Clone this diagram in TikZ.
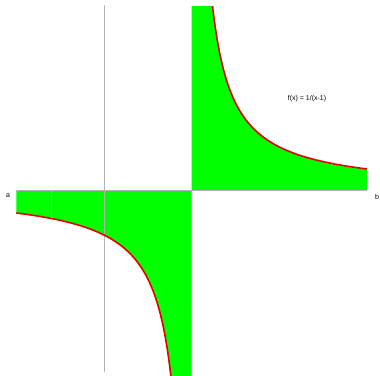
\documentclass[tikz,border=0pt]{standalone}
\usepackage{fontspec}
\setmainfont{Liberation Sans}
\begin{document}
\begin{tikzpicture}[x=1pt,y=1pt,
  axis/.style={draw=black!30,line width=1pt},
  region/.style={fill={rgb,255:red,0;green,255;blue,0}},
  curve/.style={draw={rgb,255:red,230;green,0;blue,0},line width=1.6pt},
  lbl/.style={font=\fontsize{7}{8}\selectfont,inner sep=0pt}]
\useasboundingbox (0,0) rectangle (380,375);
\clip (0,0) rectangle (380,375);
\begin{scope}[shift={(104,184)},x=87.7pt,y=44pt]
  \fill[region] (-1,0) -- plot[domain=-1:0.77,samples=200] (\x,{1/(\x-1)}) -- (1,-4.35) -- (1,0) -- cycle;
  \fill[region] (1,0) -- (1,4.2) -- plot[domain=1.2381:3,samples=200] (\x,{1/(\x-1)}) -- (3,0) -- cycle;
  \draw[draw={rgb,255:red,140;green,245;blue,140},line width=0.5pt] (-0.6,0) -- (-0.6,-0.625);
  \draw[axis] (-1,0) -- (3,0);
  \draw[axis] (0,4.227) -- (0,-4.11);
  \draw[curve] plot[domain=-1:0.77,samples=200] (\x,{1/(\x-1)});
  \draw[curve] plot[domain=1.2381:3,samples=200] (\x,{1/(\x-1)});
\end{scope}
\node[lbl] (a) at (8,179) {a};
\node[lbl] (b) at (377,178) {b};
\node[lbl] (f) at (307,276) {f(x) = 1/(x-1)};
\end{tikzpicture}
\end{document}
